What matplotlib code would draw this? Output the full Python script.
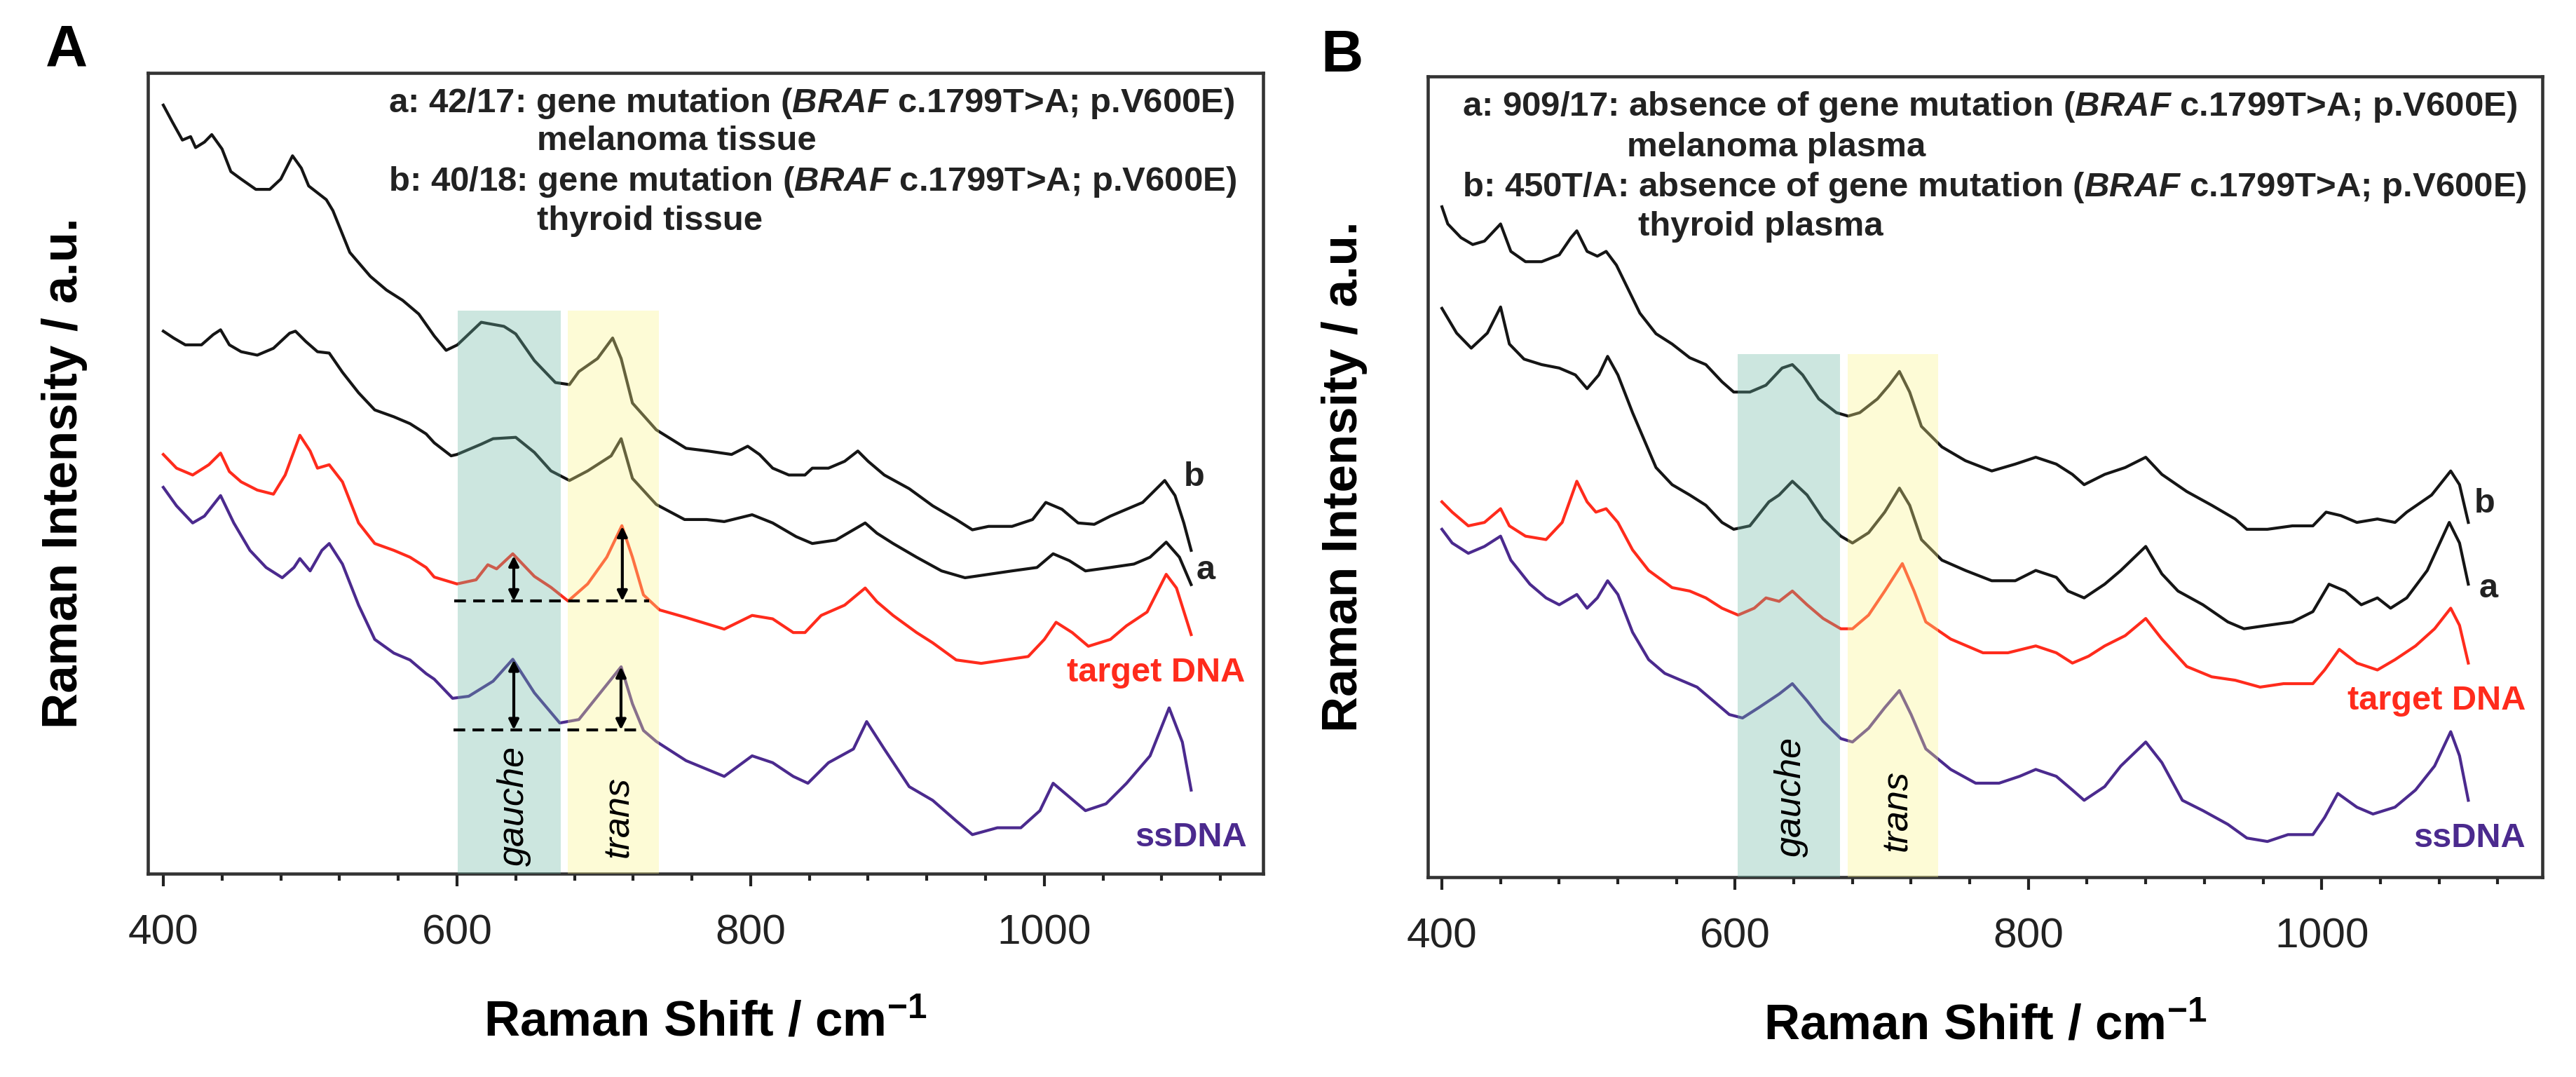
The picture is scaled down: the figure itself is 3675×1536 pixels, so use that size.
import matplotlib
matplotlib.use("Agg")
import matplotlib.pyplot as plt
from matplotlib.ticker import MultipleLocator

plt.rcParams['font.family'] = ['Liberation Sans', 'DejaVu Sans']
plt.rcParams['mathtext.fontset'] = 'custom'
plt.rcParams['mathtext.rm'] = 'Liberation Sans'
plt.rcParams['mathtext.it'] = 'Liberation Sans:italic:bold'
plt.rcParams['mathtext.bf'] = 'Liberation Sans:bold'
plt.rcParams['mathtext.default'] = 'regular'

# ---------------- Panel A data (Raman shift / cm-1, intensity a.u.) ----------------
A_b_x = [400, 406, 413, 418.6, 422, 428, 433, 440, 446, 453, 463, 472.5, 480, 488, 494, 499, 511, 515.5,
         527, 541, 552, 563, 574, 584.5, 592.6, 600.3, 616.5, 632, 640, 652.7, 667, 676.6, 683, 695.7,
         706, 711.8, 719.5, 735.7, 756, 771, 787, 798, 806, 815, 826, 837, 842, 853, 864, 873, 880,
         891, 908, 924, 940, 951, 962, 978, 992, 1001, 1012, 1023, 1034, 1045, 1056, 1067, 1082,
         1089, 1095, 1100]
A_b_y = [1122, 1098, 1071, 1076, 1060, 1068, 1079, 1058, 1025, 1014, 999, 999, 1014, 1048, 1030, 1004, 984, 968,
         907, 872, 852, 837, 817, 785, 764, 772, 805, 799, 788, 749, 717, 714, 733, 752,
         782, 752, 687, 648, 621, 617, 612, 624, 612, 592, 582, 582, 592, 592, 602, 617, 602,
         582, 562, 537, 517, 502, 507, 507, 517, 542, 532, 512, 510, 522, 532, 542, 574,
         552, 512, 472]

A_a_x = [400, 407, 415, 426, 434, 439, 445, 453, 464, 475, 486, 490, 497, 505, 513, 522, 533, 544, 557,
         568, 579, 584.5, 596, 600, 616.5, 624.6, 640, 652.7, 664, 676.6, 689, 705, 711.8, 719.5,
         735.7, 755, 770, 782, 801, 815, 831, 842, 858, 870, 878, 886, 897, 913, 930, 946, 962, 978,
         995, 1006, 1017, 1028, 1045, 1061, 1072, 1083, 1092, 1100]
A_a_y = [792, 782, 772, 772, 787, 794, 772, 762, 757, 767, 789, 792, 777, 762, 760, 732, 702, 677, 667,
         657, 642, 629, 610, 612, 627, 635, 637, 615, 588, 574, 588, 610, 635, 577,
         539, 517, 517, 514, 524, 512, 492, 482, 487, 502, 512, 497, 482, 462, 442, 432, 437, 442,
         447, 467, 457, 442, 447, 452, 462, 484, 462, 422]

A_t_x = [400, 409, 420, 431, 439, 445, 453, 464, 475, 483, 493, 500, 505, 513, 522, 533, 544, 557, 568,
         579, 584.5, 600, 613, 621, 627, 638, 652.7, 664, 675.7, 689, 702, 712.3, 719.5, 727, 738,
         756, 782, 801, 815, 829, 837, 848, 864, 878, 886, 897, 913, 924, 940, 957, 973, 989, 1000,
         1008, 1019, 1030, 1045, 1056, 1070, 1083, 1090, 1100]
A_t_y = [612, 592, 582, 597, 614, 587, 572, 560, 554, 582, 640, 617, 592, 597, 572, 512, 482, 472, 462,
         447, 433, 423, 429, 451, 445, 467, 434, 418, 398, 423, 462, 508, 462, 407, 385,
         374, 357, 377, 372, 352, 352, 377, 392, 417, 397, 377, 352, 337, 312, 307, 312, 317, 342,
         367, 352, 332, 342, 362, 382, 437, 417, 349]

A_s_x = [400, 409, 420, 428, 439, 448, 459, 470, 481, 489, 493, 500, 508, 513, 522, 533, 544, 557, 568,
         579, 584.5, 597, 608, 624.6, 638, 652.7, 670, 683, 695.7, 711.8, 719.5, 727, 735.7, 756,
         782, 801, 815, 829, 839, 853, 870, 879, 891, 908, 924, 940, 951, 968, 984, 997, 1006, 1017,
         1028, 1042, 1056, 1072, 1085, 1094, 1100]
A_s_y = [564, 537, 512, 522, 552, 512, 472, 447, 432, 447, 460, 442, 472, 482, 452, 392, 342, 322, 312,
         292, 284, 256, 259, 281, 313, 264, 220, 225, 259, 302, 248, 209, 193, 165,
         142, 172, 162, 142, 132, 162, 182, 222, 182, 127, 107, 77, 57, 67, 67, 92, 132, 112,
         92, 102, 132, 172, 242, 192, 122]

# ---------------- Panel B data ----------------
B_b_x = [400, 404, 413, 421, 429, 440, 447, 457, 468, 480, 488, 492, 499, 506, 512, 519, 527, 535, 546,
         557, 569, 580, 591, 599, 610, 621, 632, 639, 646, 657, 669, 677, 685, 697, 705, 712, 719,
         727, 741, 757, 775, 791, 805, 819, 830, 838, 852, 866, 880, 891, 908, 925, 941, 949, 963,
         980, 994, 1003, 1013, 1024, 1038, 1050, 1058, 1075, 1088, 1094, 1100]
B_b_y = [977, 952, 932, 922, 927, 952, 912, 897, 897, 907, 932, 942, 912, 905, 912, 892, 857, 822, 792,
         777, 757, 747, 722, 707, 707, 717, 742, 747, 732, 697, 677, 672, 677, 697, 717, 737, 707,
         657, 627, 607, 592, 602, 612, 602, 587, 572, 587, 597, 612, 587, 562, 542, 522, 507, 507,
         512, 512, 532, 527, 517, 522, 517, 532, 557, 592, 572, 517]

B_a_x = [400, 410, 420, 431, 440, 446, 456, 468, 480, 491, 499, 507, 513, 520, 530, 538, 546, 557, 569,
         580, 591, 599, 610, 623, 630, 639, 649, 660, 672, 680, 691, 702, 712, 719, 727, 741, 757,
         775, 791, 805, 819, 827, 838, 852, 863, 880, 891, 902, 919, 936, 947, 963, 980, 994, 1005,
         1016, 1027, 1038, 1047, 1058, 1072, 1087, 1094, 1100]
B_a_y = [829, 793, 771, 793, 831, 777, 755, 747, 742, 732, 712, 732, 759, 732, 677, 637, 597, 572, 557,
         542, 517, 507, 512, 547, 557, 577, 557, 522, 497, 487, 502, 532, 567, 542, 492, 462, 447,
         432, 432, 447, 437, 417, 407, 427, 447, 482, 442, 417, 397, 372, 362, 367, 372, 387, 427,
         417, 397, 407, 392, 407, 447, 517, 487, 427]

B_t_x = [400, 407, 418, 429, 440, 446, 457, 471, 482, 492, 499, 505, 512, 520, 530, 541, 557, 569, 580,
         591, 602, 613, 621, 630, 639, 649, 660, 672, 680, 691, 702, 714, 722, 730, 747, 769, 786,
         805, 819, 830, 841, 852, 866, 880, 891, 908, 925, 941, 958, 974, 994, 1002, 1012, 1024,
         1038, 1050, 1064, 1077, 1088, 1094, 1100]
B_t_y = [547, 532, 512, 517, 537, 512, 497, 492, 517, 577, 547, 532, 537, 517, 477, 447, 422, 417, 407,
         392, 382, 392, 407, 402, 417, 397, 377, 362, 362, 382, 417, 457, 417, 372, 347, 327, 327,
         337, 327, 312, 322, 337, 352, 377, 347, 307, 292, 287, 277, 282, 282, 302, 332, 312,
         302, 317, 337, 362, 392, 367, 312]

B_s_x = [400, 407, 418, 429, 440, 447, 460, 471, 480, 488, 492, 499, 506, 513, 520, 530, 541, 552, 563,
         574, 585, 596, 605, 616, 630, 639, 649, 660, 672, 680, 691, 702, 712, 720, 730, 747, 764,
         780, 794, 805, 819, 830, 838, 852, 863, 880, 891, 905, 919, 936, 949, 963, 977, 994, 1002,
         1011, 1024, 1035, 1050, 1064, 1077, 1088, 1094, 1100]
B_s_y = [507, 487, 472, 482, 497, 462, 427, 407, 397, 407, 412, 392, 407, 432, 412, 357, 317, 297, 287,
         277, 257, 237, 232, 247, 267, 282, 257, 227, 202, 197, 217, 247, 272, 237, 187, 157, 137,
         137, 147, 157, 147, 127, 112, 132, 162, 197, 167, 112, 97, 77, 57, 52, 62, 62, 87,
         122, 102, 92, 102, 127, 162, 212, 177, 112]

# annotation texts
A_lines = ["a: 42/17: gene mutation ($\\mathit{BRAF}$ c.1799T>A; p.V600E)", "melanoma tissue",
           "b: 40/18: gene mutation ($\\mathit{BRAF}$ c.1799T>A; p.V600E)", "thyroid tissue"]
B_lines = ["a: 909/17: absence of gene mutation ($\\mathit{BRAF}$ c.1799T>A; p.V600E)", "melanoma plasma",
           "b: 450T/A: absence of gene mutation ($\\mathit{BRAF}$ c.1799T>A; p.V600E)", "thyroid plasma"]

BLACK = '#151515'
RED = '#ff2b1c'
PURPLE = '#4b2a8e'
TEAL = '#6db8a6'
YELLOW = '#fcf48a'

fig = plt.figure(figsize=(12.25, 5.12), dpi=300)
axA = fig.add_axes([0.05741, 0.18880, 0.43293, 0.74349])
axB = fig.add_axes([0.55429, 0.18555, 0.43265, 0.74349])


def style(ax, xlim, ylim):
    ax.set_xlim(*xlim)
    ax.set_ylim(*ylim)
    ax.set_yticks([])
    ax.xaxis.set_major_locator(MultipleLocator(200))
    ax.xaxis.set_minor_locator(MultipleLocator(40))
    ax.tick_params(axis='x', which='major', direction='out', length=4.3, width=1.0,
                   pad=9.5, labelsize=14.5, colors='#222222')
    ax.tick_params(axis='x', which='minor', direction='out', length=2.5, width=1.0, colors='#222222')
    for s in ax.spines.values():
        s.set_linewidth(1.1)
        s.set_color('#333333')
    ax.set_xlabel('Raman Shift / cm$^{-1}$', fontsize=17, fontweight='bold')
    ax.xaxis.set_label_coords(0.5, -0.187)
    ax.xaxis.label.set_va('center')
    ax.set_ylabel('Raman Intensity / a.u.', fontsize=17, fontweight='bold')
    ax.yaxis.set_label_coords(-0.0748, 0.5)
    ax.yaxis.label.set_va('center')


# ---------------- Panel A ----------------
style(axA, (389.5, 1149), (0, 1169))
axA.plot(A_b_x, A_b_y, color=BLACK, lw=1.0, zorder=2)
axA.plot(A_a_x, A_a_y, color=BLACK, lw=1.0, zorder=2)
axA.plot(A_t_x, A_t_y, color=RED, lw=1.0, zorder=2)
axA.plot(A_s_x, A_s_y, color=PURPLE, lw=1.0, zorder=2)
axA.fill_between([600.3, 670.9], 0, 822, color=TEAL, alpha=0.35, lw=0, zorder=3)
axA.fill_between([675.6, 737.6], 0, 822, color=YELLOW, alpha=0.35, lw=0, zorder=3)

# baselines and arrows
axA.plot([598, 731], [398, 398], color='k', lw=1.0, ls=(0, (4, 2.5)), zorder=4)
axA.plot([597.5, 725], [210, 210], color='k', lw=1.0, ls=(0, (4, 2.5)), zorder=4)
arrow_kw = dict(arrowstyle='<|-|>', color='k', lw=1.0, mutation_scale=7, shrinkA=0, shrinkB=0)
for (ax_x, y0, y1) in [(638.7, 398, 464), (712.6, 398, 507), (638.7, 210, 312), (711.7, 210, 302)]:
    axA.annotate('', xy=(ax_x, y1), xytext=(ax_x, y0), arrowprops=arrow_kw, zorder=4)

axA.text(638.7, 99, 'gauche', rotation=90, style='italic', fontsize=12.5, ha='center', va='center', zorder=4)
axA.text(710.3, 83, 'trans', rotation=90, style='italic', fontsize=12.5, ha='center', va='center', zorder=4)
axA.text(1102, 579, 'b', fontsize=11.7, fontweight='bold', color='#222222', ha='center', va='center')
axA.text(1110, 443, 'a', fontsize=11.7, fontweight='bold', color='#222222', ha='center', va='center')
axA.text(1137, 293, 'target DNA', fontsize=11.7, fontweight='bold', color=RED, ha='right', va='center')
axA.text(1138, 53, 'ssDNA', fontsize=11.7, fontweight='bold', color=PURPLE, ha='right', va='center')

for txt, xf, yf in zip(A_lines, [0.2156, 0.3488, 0.2156, 0.3488], [0.9623, 0.915, 0.8634, 0.8144]):
    axA.text(xf, yf, txt, transform=axA.transAxes, fontsize=11.8, fontweight='bold',
             color='#222222', ha='left', va='center')

# ---------------- Panel B ----------------
style(axB, (390.4, 1150.5), (0, 1167))
axB.plot(B_b_x, B_b_y, color=BLACK, lw=1.0, zorder=2)
axB.plot(B_a_x, B_a_y, color=BLACK, lw=1.0, zorder=2)
axB.plot(B_t_x, B_t_y, color=RED, lw=1.0, zorder=2)
axB.plot(B_s_x, B_s_y, color=PURPLE, lw=1.0, zorder=2)
axB.fill_between([601.7, 671.5], 0, 762, color=TEAL, alpha=0.35, lw=0, zorder=3)
axB.fill_between([676.7, 738.4], 0, 762, color=YELLOW, alpha=0.35, lw=0, zorder=3)

axB.text(638, 117, 'gauche', rotation=90, style='italic', fontsize=12.5, ha='center', va='center', zorder=4)
axB.text(710.5, 97, 'trans', rotation=90, style='italic', fontsize=12.5, ha='center', va='center', zorder=4)
axB.text(1111, 544, 'b', fontsize=11.7, fontweight='bold', color='#222222', ha='center', va='center')
axB.text(1114, 420, 'a', fontsize=11.7, fontweight='bold', color='#222222', ha='center', va='center')
axB.text(1139, 257, 'target DNA', fontsize=11.7, fontweight='bold', color=RED, ha='right', va='center')
axB.text(1139, 57, 'ssDNA', fontsize=11.7, fontweight='bold', color=PURPLE, ha='right', va='center')

for txt, xf, yf in zip(B_lines, [0.0308, 0.1786, 0.0308, 0.1887], [0.9623, 0.9107, 0.8608, 0.8126]):
    axB.text(xf, yf, txt, transform=axB.transAxes, fontsize=11.8, fontweight='bold',
             color='#222222', ha='left', va='center')

# panel letters
fig.text(95 / 3675, 1 - 72 / 1536, 'A', fontsize=20, fontweight='bold', ha='center', va='center')
fig.text(1914 / 3675, 1 - 80 / 1536, 'B', fontsize=20, fontweight='bold', ha='center', va='center')

fig.savefig('out.png', dpi=300)
